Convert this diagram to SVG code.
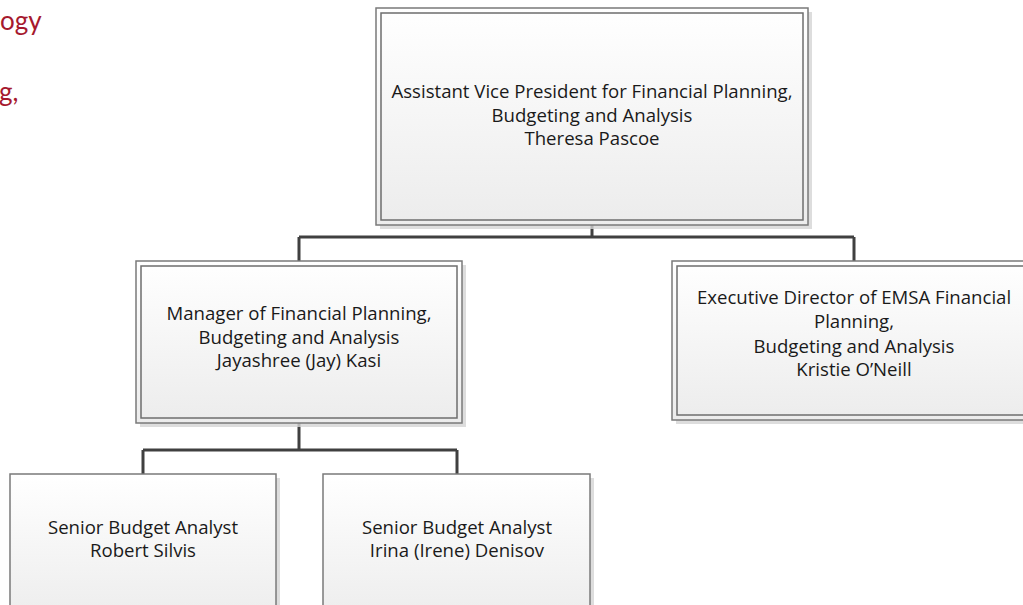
<svg xmlns="http://www.w3.org/2000/svg" width="1023" height="605" viewBox="0 0 1023 605">
<defs>
<linearGradient id="fillg" x1="0" y1="0" x2="0" y2="1">
<stop offset="0" stop-color="#ffffff"/>
<stop offset="1" stop-color="#ececec"/>
</linearGradient>
<style>
.shadow{fill:#d4d4d4;opacity:0.8}
.outer{fill:url(#fillg);stroke:#7a7a7a;stroke-width:1.5}
.inner{fill:none;stroke:#6e6e6e;stroke-width:1.5}
.t{font-family:"Open Sans","Liberation Sans",sans-serif;font-size:18.6px;fill:#1a1a1a;text-anchor:middle;font-variant-ligatures:none}
.red{font-family:Lato,"Liberation Sans",sans-serif;font-size:26px;fill:#a6192e}
.conn{fill:none;stroke:#404040;stroke-width:3}
</style>
</defs>
<rect width="1023" height="605" fill="#ffffff"/>
<g id="header-fragments">
<text class="red" x="0" y="30">ogy</text>
<text class="red" x="-1" y="101">g,</text>
</g>
<g id="connectors">
<path class="conn" d="M592,225 V237 M299,237 H854 M299,237 V261 M854,237 V261 M299,423 V450 M143,450 H457 M143,450 V474 M457,450 V474"/>
</g>
<g id="node-avp">
<rect class="shadow" x="380" y="12" width="432" height="217"/>
<rect class="outer" x="376" y="8" width="432" height="217"/>
<rect class="inner" x="381" y="13" width="422" height="207"/>
<text class="t" x="592" y="98">Assistant Vice President for Financial Planning,</text>
<text class="t" x="592" y="122">Budgeting and Analysis</text>
<text class="t" x="592" y="145">Theresa Pascoe</text>
</g>
<g id="node-manager">
<rect class="shadow" x="140" y="265" width="326" height="162"/>
<rect class="outer" x="136" y="261" width="326" height="162"/>
<rect class="inner" x="141" y="266" width="316" height="152"/>
<text class="t" x="299" y="320">Manager of Financial Planning,</text>
<text class="t" x="299" y="344">Budgeting and Analysis</text>
<text class="t" x="299" y="367">Jayashree (Jay) Kasi</text>
</g>
<g id="node-emsa">
<rect class="shadow" x="676" y="265" width="364" height="159"/>
<rect class="outer" x="672" y="261" width="364" height="159"/>
<rect class="inner" x="677" y="266" width="354" height="149"/>
<text class="t" x="854" y="304">Executive Director of EMSA Financial</text>
<text class="t" x="854" y="328">Planning,</text>
<text class="t" x="854" y="353">Budgeting and Analysis</text>
<text class="t" x="854" y="376">Kristie O’Neill</text>
</g>
<g id="node-silvis">
<rect class="shadow" x="14" y="478" width="266" height="150"/>
<rect class="outer" x="10" y="474" width="266" height="150"/>
<text class="t" x="143" y="534">Senior Budget Analyst</text>
<text class="t" x="143" y="557">Robert Silvis</text>
</g>
<g id="node-denisov">
<rect class="shadow" x="327" y="478" width="267" height="150"/>
<rect class="outer" x="323" y="474" width="267" height="150"/>
<text class="t" x="457" y="534">Senior Budget Analyst</text>
<text class="t" x="457" y="557">Irina (Irene) Denisov</text>
</g>
</svg>
